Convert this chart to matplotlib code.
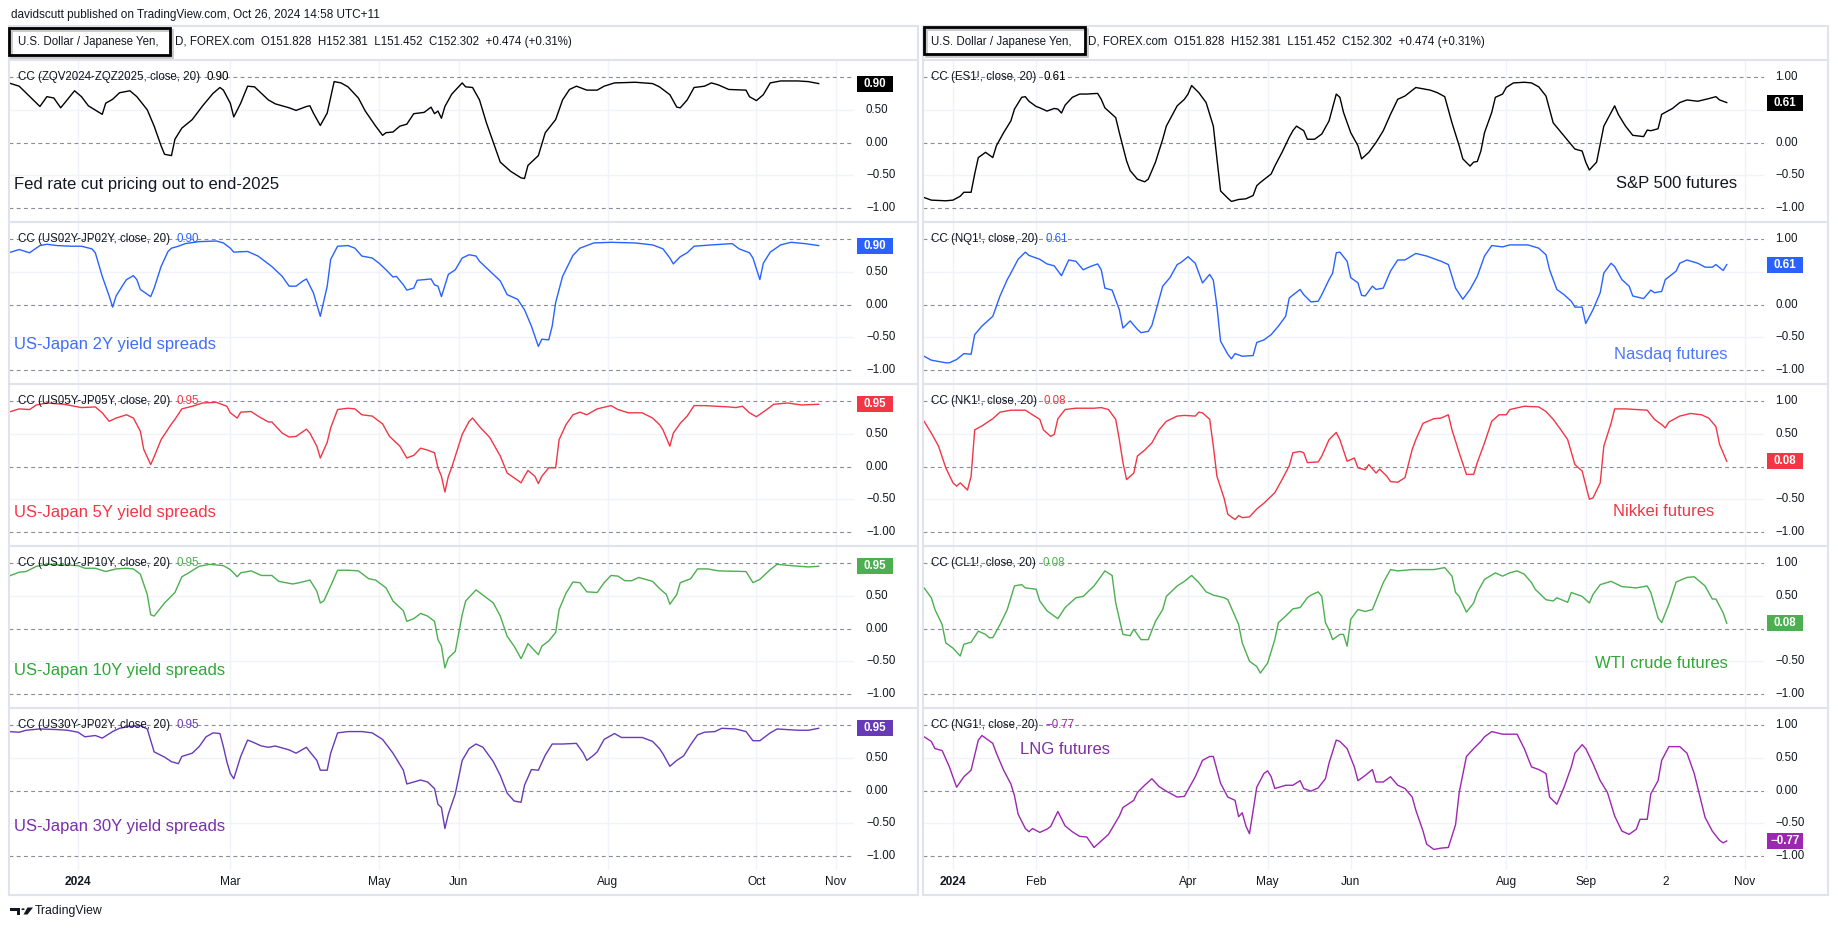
import numpy as np
import matplotlib
matplotlib.use('Agg')
import matplotlib.pyplot as plt
from matplotlib.patches import Rectangle, Polygon, Circle
from matplotlib.lines import Line2D
from matplotlib.transforms import blended_transform_factory as blend

plt.rcParams['font.family'] = ['Liberation Sans', 'DejaVu Sans']

W, H = 1838, 931

# ---------------- data (x = trading days from 2024-01-01) ----------------
fed_day = [-20,-17,-11,-9,-7,-5,-1,1,3,7,8,10,12,15,17,20,22,24,25,27,28,30,33,36,39,41,42,44,45,47,49,51,53,55,57,61,63,66,67,68,70,72,74,76,78,81,83,86,88,89,91,93,95,97,100,102,103,104,105,106,108,111,112,114,116,118,120,122,125,128,129,130,133,135,138,140,142,144,147,150,152,155,161,166,168,171,173,174,176,178,181,183,185,188,193,194,196,198,200,203,208,211,214]
fed_val = [0.91,0.86,0.55,0.70,0.68,0.53,0.79,0.70,0.56,0.43,0.60,0.66,0.76,0.79,0.70,0.50,0.25,-0.05,-0.18,-0.20,0.05,0.22,0.35,0.56,0.75,0.84,0.80,0.60,0.39,0.60,0.86,0.85,0.75,0.65,0.59,0.53,0.49,0.55,0.56,0.45,0.26,0.45,0.93,0.91,0.85,0.68,0.48,0.25,0.11,0.15,0.16,0.25,0.28,0.44,0.46,0.54,0.44,0.48,0.37,0.55,0.74,0.91,0.85,0.84,0.65,0.30,0.0,-0.30,-0.44,-0.54,-0.55,-0.35,-0.20,0.15,0.35,0.65,0.81,0.86,0.80,0.80,0.86,0.91,0.92,0.90,0.85,0.73,0.54,0.53,0.65,0.84,0.86,0.91,0.88,0.81,0.80,0.70,0.64,0.73,0.91,0.94,0.94,0.93,0.90]

us2y_day = [-20,-17,-14,-11,-9,-6,-2,1,4,5,7,9,10,11,13,14,16,17,18,21,22,24,26,27,29,31,35,40,42,44,45,49,52,55,56,59,61,63,65,66,68,70,72,73,75,78,80,82,85,87,89,91,92,94,95,97,98,100,102,103,104,105,107,109,111,113,115,116,119,122,124,127,129,131,133,134,136,137,138,140,143,145,149,154,161,166,169,171,172,174,176,178,183,189,191,194,195,197,198,200,203,206,210,214]
us2y_val = [0.79,0.84,0.79,0.90,0.92,0.90,0.89,0.89,0.85,0.79,0.43,0.13,-0.04,0.13,0.30,0.38,0.44,0.38,0.23,0.12,0.25,0.58,0.81,0.86,0.89,0.93,0.96,0.97,0.94,0.86,0.80,0.81,0.74,0.62,0.58,0.43,0.28,0.28,0.36,0.39,0.18,-0.18,0.28,0.69,0.89,0.90,0.86,0.74,0.71,0.63,0.53,0.42,0.43,0.30,0.22,0.25,0.37,0.38,0.39,0.30,0.28,0.12,0.46,0.53,0.71,0.76,0.74,0.66,0.51,0.36,0.15,0.08,-0.08,-0.33,-0.64,-0.53,-0.54,-0.33,0.03,0.43,0.75,0.86,0.94,0.95,0.94,0.91,0.85,0.71,0.62,0.73,0.79,0.89,0.91,0.93,0.85,0.79,0.71,0.38,0.63,0.80,0.91,0.95,0.93,0.90]

us5y_day = [-20,-17,-14,-12,-9,-4,1,5,7,9,11,14,16,18,19,21,22,24,27,28,30,33,36,40,43,44,46,47,50,52,55,56,59,61,63,66,67,69,70,72,73,75,78,80,82,85,88,90,93,95,97,99,101,103,104,105,106,107,108,111,113,114,116,119,122,124,127,128,129,130,132,133,134,136,138,139,141,143,145,147,150,154,156,159,163,166,168,169,171,172,174,176,178,181,188,190,192,194,196,199,201,205,209,214]
us5y_val = [0.83,0.88,0.87,0.94,0.97,0.95,0.90,0.91,0.82,0.69,0.74,0.79,0.74,0.54,0.26,0.03,0.15,0.41,0.65,0.72,0.88,0.92,0.97,0.98,0.92,0.82,0.74,0.83,0.84,0.77,0.68,0.68,0.51,0.45,0.46,0.57,0.51,0.31,0.13,0.37,0.59,0.87,0.89,0.88,0.79,0.77,0.65,0.46,0.31,0.13,0.17,0.28,0.25,0.21,-0.02,-0.15,-0.39,-0.15,-0.01,0.49,0.69,0.74,0.61,0.44,0.16,-0.10,-0.21,-0.25,-0.15,-0.06,-0.15,-0.26,-0.15,-0.02,-0.02,0.41,0.64,0.79,0.83,0.79,0.88,0.93,0.87,0.82,0.82,0.74,0.64,0.56,0.31,0.51,0.66,0.77,0.93,0.93,0.91,0.90,0.92,0.82,0.76,0.87,0.95,0.97,0.94,0.95]

us10y_day = [-20,-17,-15,-12,-9,-4,0,2,5,8,11,14,16,18,20,21,22,25,28,30,32,35,38,42,44,46,47,50,53,56,58,62,64,67,69,70,71,73,75,78,81,84,86,89,91,94,95,97,99,101,103,104,105,106,107,109,111,112,115,117,120,122,124,126,128,129,130,133,134,136,138,139,141,143,145,147,150,152,154,156,158,160,162,166,168,170,171,173,174,177,179,182,185,193,195,197,200,202,206,211,214]
us10y_val = [0.80,0.86,0.87,0.95,0.98,0.97,0.96,0.92,0.92,0.87,0.91,0.92,0.91,0.83,0.52,0.21,0.19,0.39,0.55,0.79,0.85,0.95,0.98,0.96,0.90,0.79,0.85,0.88,0.81,0.81,0.72,0.68,0.70,0.74,0.57,0.39,0.42,0.65,0.89,0.89,0.88,0.76,0.74,0.62,0.42,0.27,0.11,0.15,0.23,0.19,0.11,-0.17,-0.27,-0.60,-0.45,-0.35,0.21,0.42,0.59,0.51,0.39,0.19,-0.12,-0.27,-0.46,-0.35,-0.23,-0.40,-0.27,-0.19,-0.06,0.29,0.54,0.71,0.70,0.56,0.55,0.70,0.81,0.80,0.73,0.73,0.78,0.72,0.61,0.52,0.37,0.52,0.70,0.76,0.91,0.91,0.88,0.87,0.70,0.75,0.90,0.98,0.96,0.94,0.95]

us30y_day = [-20,-17,-15,-11,-6,-3,0,2,5,7,10,12,15,18,20,22,25,27,29,30,33,35,37,39,41,42,43,44,45,47,49,50,53,55,57,61,63,66,67,69,70,72,73,75,78,82,85,88,91,94,95,97,99,101,103,104,105,106,107,109,111,113,115,117,120,122,124,126,128,129,131,133,135,137,140,144,146,147,149,150,152,155,157,161,163,166,168,169,171,173,175,177,179,181,184,186,190,193,195,197,200,202,208,211,214]
us30y_val = [0.90,0.89,0.92,0.94,0.93,0.92,0.89,0.82,0.84,0.80,0.90,0.95,0.98,0.99,0.94,0.59,0.51,0.44,0.41,0.52,0.57,0.67,0.82,0.88,0.87,0.67,0.44,0.26,0.18,0.52,0.77,0.75,0.68,0.66,0.68,0.62,0.57,0.66,0.59,0.46,0.31,0.31,0.57,0.88,0.90,0.90,0.88,0.78,0.57,0.31,0.10,0.13,0.16,0.13,0.03,-0.21,-0.26,-0.58,-0.36,-0.05,0.46,0.64,0.71,0.66,0.44,0.23,-0.04,-0.16,-0.18,0.08,0.32,0.31,0.54,0.71,0.71,0.72,0.57,0.46,0.54,0.59,0.78,0.87,0.81,0.81,0.81,0.75,0.64,0.56,0.37,0.46,0.53,0.70,0.85,0.89,0.90,0.95,0.94,0.90,0.76,0.76,0.88,0.94,0.92,0.92,0.95]

spx_day = [-8,-6,-2,0,2,3,5,6,7,9,11,12,14,16,17,19,20,21,23,24,26,28,29,30,31,33,35,37,40,41,42,45,46,48,49,51,53,54,56,58,59,62,64,65,66,68,70,72,73,74,76,77,79,81,83,84,85,88,89,91,93,94,95,97,98,100,102,104,106,107,108,110,112,113,115,117,119,121,123,125,128,132,134,136,138,140,141,143,144,145,146,147,149,150,152,153,155,158,160,162,164,166,169,172,174,175,176,178,180,183,184,186,188,191,192,193,195,196,199,201,203,206,209,211,212,214]
spx_val = [-0.84,-0.88,-0.89,-0.88,-0.82,-0.76,-0.76,-0.48,-0.23,-0.15,-0.23,-0.05,0.15,0.33,0.51,0.69,0.70,0.63,0.55,0.53,0.48,0.52,0.51,0.45,0.57,0.69,0.74,0.74,0.75,0.66,0.53,0.38,0.15,-0.28,-0.43,-0.56,-0.60,-0.56,-0.30,0.05,0.25,0.56,0.66,0.74,0.87,0.76,0.61,0.25,-0.25,-0.74,-0.85,-0.90,-0.87,-0.86,-0.81,-0.66,-0.61,-0.48,-0.36,-0.15,0.08,0.18,0.25,0.18,0.05,0.05,0.13,0.33,0.74,0.69,0.46,0.15,-0.05,-0.25,-0.15,0.0,0.18,0.43,0.66,0.71,0.84,0.80,0.76,0.70,0.30,-0.05,-0.25,-0.36,-0.30,-0.29,-0.13,0.15,0.46,0.69,0.74,0.84,0.91,0.92,0.91,0.85,0.71,0.30,0.10,-0.10,-0.13,-0.30,-0.42,-0.30,0.25,0.56,0.43,0.25,0.11,0.09,0.19,0.18,0.21,0.43,0.52,0.61,0.65,0.63,0.67,0.70,0.65,0.61]

nq_day = [-8,-6,-2,-1,1,3,5,6,8,10,11,13,15,16,18,20,21,24,26,28,30,32,34,36,38,40,41,42,44,46,47,49,51,52,54,55,57,58,60,62,63,65,67,68,69,71,72,73,74,76,77,78,80,83,84,86,88,90,92,93,96,97,99,101,102,104,105,106,107,109,110,112,113,114,116,117,119,121,123,125,128,131,135,137,139,141,143,145,147,149,152,154,159,162,164,165,167,169,171,172,174,175,177,179,180,182,183,185,187,188,191,193,194,196,197,200,201,203,206,208,210,211,213,214]
nq_val = [-0.79,-0.85,-0.89,-0.89,-0.84,-0.75,-0.76,-0.46,-0.33,-0.23,-0.18,0.13,0.38,0.48,0.69,0.80,0.75,0.69,0.62,0.59,0.44,0.68,0.66,0.53,0.58,0.62,0.53,0.25,0.22,-0.08,-0.36,-0.25,-0.38,-0.43,-0.41,-0.32,0.08,0.28,0.41,0.61,0.64,0.73,0.63,0.48,0.33,0.46,0.37,-0.03,-0.56,-0.76,-0.83,-0.75,-0.79,-0.78,-0.58,-0.54,-0.46,-0.33,-0.18,0.10,0.23,0.15,0.04,0.05,0.15,0.38,0.48,0.79,0.80,0.66,0.41,0.33,0.14,0.13,0.28,0.23,0.25,0.51,0.68,0.68,0.78,0.74,0.66,0.61,0.25,0.08,0.23,0.43,0.74,0.90,0.88,0.91,0.91,0.86,0.76,0.53,0.23,0.15,0.05,-0.04,-0.04,-0.29,-0.08,0.18,0.48,0.63,0.58,0.38,0.28,0.13,0.09,0.22,0.18,0.20,0.38,0.51,0.63,0.68,0.63,0.57,0.57,0.61,0.52,0.61]

nk_day = [-8,-6,-4,-2,0,1,2,4,5,6,8,11,13,16,20,22,24,25,27,28,29,31,34,39,41,43,45,46,47,48,50,51,53,55,57,59,62,64,67,68,69,71,72,73,75,76,78,79,80,82,84,86,89,91,93,94,96,97,98,101,102,104,106,107,109,111,112,114,115,117,118,120,121,123,125,127,128,130,133,135,137,138,140,142,144,145,147,149,151,153,154,158,162,164,166,168,170,172,174,176,177,179,180,182,183,186,189,192,194,196,197,198,201,204,207,209,211,212,214]
nk_val = [0.69,0.51,0.31,-0.02,-0.25,-0.30,-0.25,-0.36,-0.15,0.56,0.62,0.73,0.83,0.86,0.86,0.79,0.72,0.56,0.46,0.49,0.73,0.87,0.89,0.89,0.90,0.87,0.72,0.41,0.06,-0.20,-0.10,0.16,0.25,0.36,0.56,0.69,0.77,0.78,0.77,0.83,0.82,0.72,0.31,-0.15,-0.49,-0.73,-0.81,-0.75,-0.78,-0.77,-0.65,-0.56,-0.40,-0.20,0.01,0.21,0.23,0.21,0.06,0.07,0.16,0.41,0.52,0.41,0.08,0.13,-0.02,-0.05,0.03,-0.10,-0.04,-0.15,-0.23,-0.24,-0.17,0.26,0.41,0.66,0.73,0.74,0.79,0.56,0.21,-0.12,-0.12,0.06,0.36,0.69,0.79,0.79,0.87,0.92,0.91,0.84,0.72,0.57,0.41,0.03,-0.07,-0.50,-0.48,-0.25,0.31,0.66,0.88,0.88,0.87,0.86,0.72,0.64,0.59,0.68,0.77,0.81,0.79,0.74,0.61,0.34,0.08]

cl_day = [-8,-6,-5,-3,-2,0,2,3,5,7,9,10,11,13,15,17,19,20,23,24,26,29,31,34,36,39,41,42,44,45,47,49,50,52,54,56,58,59,62,64,66,68,70,72,75,76,79,80,82,84,85,87,89,90,92,94,96,98,99,101,102,103,104,105,107,108,109,110,112,114,116,119,121,123,127,130,133,136,138,139,140,142,144,145,147,150,152,154,156,158,160,161,164,166,167,170,171,173,174,176,177,179,182,185,189,192,193,195,196,198,200,203,205,208,210,211,213,214]
cl_val = [0.62,0.47,0.29,0.06,-0.22,-0.30,-0.42,-0.24,-0.21,-0.04,-0.09,-0.14,-0.14,0.06,0.29,0.65,0.67,0.62,0.60,0.42,0.27,0.15,0.32,0.47,0.49,0.65,0.80,0.88,0.81,0.39,-0.09,-0.11,-0.01,-0.17,-0.17,0.11,0.29,0.49,0.65,0.72,0.81,0.70,0.56,0.51,0.47,0.44,0.06,-0.22,-0.50,-0.58,-0.68,-0.53,-0.17,0.09,0.19,0.30,0.32,0.47,0.51,0.56,0.49,0.09,-0.02,-0.17,-0.09,-0.09,-0.27,0.14,0.29,0.26,0.29,0.70,0.90,0.88,0.90,0.90,0.90,0.93,0.80,0.55,0.49,0.25,0.39,0.55,0.75,0.85,0.80,0.85,0.88,0.83,0.70,0.60,0.44,0.42,0.47,0.40,0.55,0.51,0.49,0.39,0.52,0.67,0.72,0.64,0.62,0.65,0.55,0.16,0.09,0.37,0.71,0.78,0.79,0.65,0.45,0.45,0.24,0.08]

ng_day = [-8,-6,-5,-3,-1,1,3,5,7,8,11,12,14,16,17,18,20,21,22,24,26,27,29,31,33,35,37,39,41,43,46,47,50,51,53,55,57,59,62,64,67,69,71,72,74,76,78,79,80,81,82,83,84,86,87,88,89,92,94,96,97,99,101,103,104,106,107,109,111,112,114,116,117,119,121,123,125,127,128,130,131,133,135,137,139,140,142,144,146,147,149,152,156,158,160,162,164,165,167,169,171,172,174,175,177,179,181,183,185,187,189,190,192,193,195,196,198,201,203,205,208,210,212,213,214]
ng_val = [0.82,0.75,0.64,0.61,0.36,0.05,0.21,0.31,0.77,0.84,0.72,0.57,0.31,0.10,-0.08,-0.36,-0.58,-0.63,-0.58,-0.64,-0.59,-0.55,-0.32,-0.54,-0.63,-0.70,-0.71,-0.87,-0.77,-0.67,-0.39,-0.26,-0.15,-0.03,0.08,0.18,0.06,-0.01,-0.10,-0.09,0.21,0.46,0.52,0.52,0.11,-0.10,-0.15,-0.40,-0.34,-0.54,-0.66,-0.31,0.05,0.26,0.30,0.21,0.03,0.08,0.08,0.15,0.03,-0.01,0.04,0.18,0.42,0.77,0.75,0.64,0.36,0.15,0.23,0.32,0.13,0.13,0.21,0.08,0.03,-0.10,-0.30,-0.62,-0.82,-0.90,-0.88,-0.87,-0.52,-0.03,0.52,0.64,0.75,0.82,0.90,0.86,0.86,0.64,0.36,0.32,0.26,-0.10,-0.21,0.05,0.36,0.57,0.70,0.64,0.41,0.15,-0.03,-0.39,-0.62,-0.67,-0.59,-0.44,-0.44,-0.05,0.15,0.46,0.67,0.67,0.57,0.26,-0.41,-0.62,-0.76,-0.80,-0.77]

y_levels = [1.0, 0.5, 0.0, -0.5, -1.0]
y_labels = ['1.00', '0.50', '0.00', '\u22120.50', '\u22121.00']

left_ticks = [('2024-01-01', '2024'), ('2024-03-01', 'Mar'), ('2024-05-01', 'May'),
              ('2024-06-03', 'Jun'), ('2024-08-01', 'Aug'), ('2024-10-01', 'Oct'),
              ('2024-11-01', 'Nov')]
right_ticks = [('2024-01-01', '2024'), ('2024-02-01', 'Feb'), ('2024-04-01', 'Apr'),
               ('2024-05-01', 'May'), ('2024-06-03', 'Jun'), ('2024-08-01', 'Aug'),
               ('2024-09-02', 'Sep'), ('2024-10-02', '2'), ('2024-11-01', 'Nov')]

BLACK, BLUE, RED, GREEN, PURPLE, MAGENTA = '#000000', '#2962ff', '#f23645', '#4caf50', '#673ab7', '#9c27b0'

left_panels = [
    (fed_day, fed_val, 'CC (ZQV2024-ZQZ2025, close, 20)', BLACK, 'Fed rate cut pricing out to end-2025', '#131722'),
    (us2y_day, us2y_val, 'CC (US02Y-JP02Y, close, 20)', BLUE, 'US-Japan 2Y yield spreads', '#3f6ff5'),
    (us5y_day, us5y_val, 'CC (US05Y-JP05Y, close, 20)', RED, 'US-Japan 5Y yield spreads', '#f23645'),
    (us10y_day, us10y_val, 'CC (US10Y-JP10Y, close, 20)', GREEN, 'US-Japan 10Y yield spreads', '#2ea836'),
    (us30y_day, us30y_val, 'CC (US30Y-JP02Y, close, 20)', PURPLE, 'US-Japan 30Y yield spreads', '#7b2fa8'),
]
right_panels = [
    (spx_day, spx_val, 'CC (ES1!, close, 20)', BLACK, 'S&P 500 futures', '#131722'),
    (nq_day, nq_val, 'CC (NQ1!, close, 20)', BLUE, 'Nasdaq futures', '#4a78f7'),
    (nk_day, nk_val, 'CC (NK1!, close, 20)', RED, 'Nikkei futures', '#f23645'),
    (cl_day, cl_val, 'CC (CL1!, close, 20)', GREEN, 'WTI crude futures', '#2ea836'),
    (ng_day, ng_val, 'CC (NG1!, close, 20)', MAGENTA, 'LNG futures', '#7b2fa8'),
]

# note placement (px): (x, y, ha)
left_notes = [(14, 185, 'left'), (14, 344, 'left'), (14, 512, 'left'), (14, 671, 'left'), (14, 826, 'left')]
right_notes = [(1737, 184, 'right'), (1728, 355, 'right'), (1714, 512, 'right'), (1728, 663, 'right'), (1020, 749, 'left')]

# ---------------- drawing ----------------
START = np.datetime64('2024-01-01')


def bday(d):
    return int(np.busday_count(START, np.datetime64(d)))


def fx(x):
    return x / W


def fy(y):
    return 1 - y / H


def fmt(v):
    return ('%.2f' % v).replace('-', '\u2212')


fig = plt.figure(figsize=(W / 100, H / 100), dpi=100)
fig.patch.set_facecolor('white')

TXT = '#131722'
GRID = '#f0f3fa'
FRAME = '#e0e3eb'
DASH = '#8a8d96'
SMALL = 8.3
PANEL_TOP = 60
PANEL_H = 162
YLIM = (-1.214, 1.26)
UNIT = PANEL_H / (YLIM[1] - YLIM[0])

cols = [
    dict(x0=9, x1=854, xlim=(-19.94, 224.2), lab_x=866, box_x0=857, leg_x=17.6,
         frame=(9, 918), hbox=(9, 28, 170, 55), h1=17.6, h2=175,
         panels=left_panels, notes=left_notes, ticks=left_ticks),
    dict(x0=923, x1=1764, xlim=(-8.3, 224.3), lab_x=1775, box_x0=1767, leg_x=931,
         frame=(923, 1828), hbox=(924, 27, 1085, 54), h1=931, h2=1088,
         panels=right_panels, notes=right_notes, ticks=right_ticks),
]

for col in cols:
    x0, x1 = col['x0'], col['x1']
    tick_pos = [bday(d) for d, _ in col['ticks']]
    ax = None
    for i, (days, vals, title, color, note, note_color) in enumerate(col['panels']):
        top = PANEL_TOP + PANEL_H * i
        ax = fig.add_axes([fx(x0), fy(top + PANEL_H), (x1 - x0) / W, PANEL_H / H])
        ax.set_xlim(*col['xlim'])
        ax.set_ylim(*YLIM)
        ax.set_axis_off()
        for t in tick_pos:
            ax.axvline(t, color=GRID, lw=1.0, zorder=0)
        for lv in (0.5, -0.5):
            ax.axhline(lv, color=GRID, lw=1.0, zorder=0)
        for lv in (1.0, 0.0, -1.0):
            ax.axhline(lv, color=DASH, lw=0.8, dashes=(3.5, 3), zorder=1)
        n = min(len(days), len(vals))
        ax.plot(days[:n], vals[:n], color=color, lw=1.0, zorder=3, solid_joinstyle='round')

        tr = blend(fig.transFigure, ax.transData)
        last = vals[n - 1]
        for lv, lab in zip(y_levels, y_labels):
            if abs(lv - last) * UNIT < 13:
                continue  # hidden behind the last-value label
            ax.text(fx(col['lab_x']), lv, lab, transform=tr, ha='left', va='center',
                    fontsize=SMALL, color=TXT, clip_on=False, zorder=4)
        ax.add_patch(Rectangle((fx(col['box_x0']), last - 8 / UNIT), 36 / W, 16 / UNIT,
                               transform=tr, facecolor=color, edgecolor='none',
                               clip_on=False, zorder=6))
        ax.text(fx(col['box_x0'] + 18), last, fmt(last), transform=tr, ha='center',
                va='center', fontsize=SMALL, color='white', fontweight='bold',
                zorder=7, clip_on=False)

        lt = ax.text(fx(col['leg_x']), 1.0, title, transform=tr, ha='left', va='center',
                     fontsize=SMALL, color=TXT, zorder=5)
        ax.annotate(fmt(last), xy=(1, 0.5), xycoords=lt, xytext=(5, 0),
                    textcoords='offset points', ha='left', va='center',
                    fontsize=SMALL, color=color, zorder=5)

        nx, ny, nha = col['notes'][i]
        fig.text(fx(nx), fy(ny), note, ha=nha, va='center', fontsize=12, color=note_color)

        if i > 0:
            fig.add_artist(Line2D([fx(col['frame'][0]), fx(col['frame'][1])], [fy(top), fy(top)],
                                  color=FRAME, lw=1.5))

    # time axis labels
    trx = blend(ax.transData, fig.transFigure)
    for (d, lab), t in zip(col['ticks'], tick_pos):
        ax.text(t, fy(882), lab, transform=trx, ha='center', va='center', fontsize=8.6,
                color=TXT, fontweight='bold' if lab == '2024' else 'normal', clip_on=False)

    # frame + header separator
    fl, fr = col['frame']
    fig.add_artist(Rectangle((fx(fl), fy(895)), (fr - fl) / W, (895 - 26) / H,
                             transform=fig.transFigure, facecolor='none', edgecolor=FRAME, lw=1.5))
    fig.add_artist(Line2D([fx(fl), fx(fr)], [fy(60), fy(60)], color=FRAME, lw=1.5))

    # header
    fig.text(fx(col['h1']), fy(42), 'U.S. Dollar / Japanese Yen,', ha='left', va='center',
             fontsize=SMALL, color=TXT)
    fig.text(fx(col['h2']), fy(42),
             'D, FOREX.com  O151.828  H152.381  L151.452  C152.302  +0.474 (+0.31%)',
             ha='left', va='center', fontsize=SMALL, color=TXT)
    bx0, by0, bx1, by1 = col['hbox']
    fig.add_artist(Rectangle((fx(bx0 + 2), fy(by1 + 2)), (bx1 - bx0) / W, (by1 - by0) / H,
                             transform=fig.transFigure, facecolor='none', edgecolor='#c8c8c8', lw=2))
    fig.add_artist(Rectangle((fx(bx0), fy(by1)), (bx1 - bx0) / W, (by1 - by0) / H,
                             transform=fig.transFigure, facecolor='none', edgecolor='black', lw=2))

fig.text(fx(10.6), fy(15), 'davidscutt published on TradingView.com, Oct 26, 2024 14:58 UTC+11',
         ha='left', va='center', fontsize=8.5, color=TXT)

# TradingView logo mark
logo_T = Polygon([(fx(10), fy(907.5)), (fx(20), fy(907.5)), (fx(20), fy(914.5)),
                  (fx(16.5), fy(914.5)), (fx(16.5), fy(910.5)), (fx(10), fy(910.5))],
                 closed=True, transform=fig.transFigure, facecolor=TXT, edgecolor='none')
logo_dot = Circle((fx(23), fy(909.2)), 1.7 / W, transform=fig.transFigure, facecolor=TXT,
                  edgecolor='none')
logo_V = Polygon([(fx(27.5), fy(907.5)), (fx(33), fy(907.5)), (fx(27.5), fy(914.5)),
                  (fx(23.5), fy(914.5))],
                 closed=True, transform=fig.transFigure, facecolor=TXT, edgecolor='none')
for p in (logo_T, logo_dot, logo_V):
    fig.add_artist(p)
fig.text(fx(35), fy(911), 'TradingView', ha='left', va='center', fontsize=8.8, color=TXT)

fig.savefig('out.png', dpi=100, facecolor='white')
